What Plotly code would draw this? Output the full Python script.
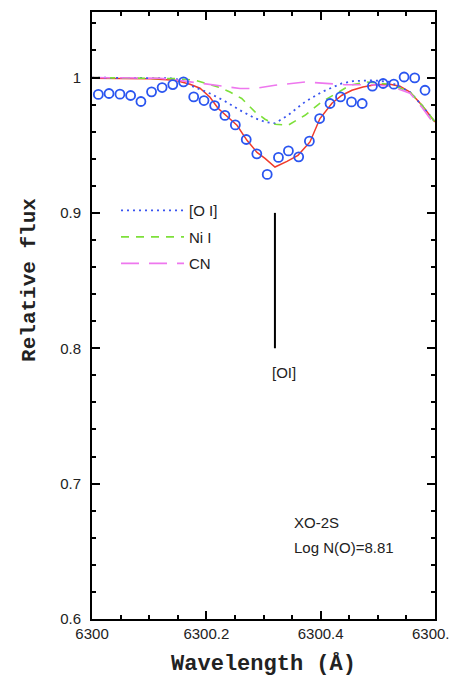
import plotly.graph_objects as go

# Observed spectrum (open circles)
obs_wave = [6300.011, 6300.0297, 6300.0488, 6300.0675, 6300.0855, 6300.1041, 6300.1226, 6300.1413,
            6300.1600, 6300.1779, 6300.1959, 6300.2145, 6300.2325, 6300.2507, 6300.2698, 6300.2883,
            6300.3065, 6300.3262, 6300.3436, 6300.3616, 6300.3803, 6300.3982, 6300.4164, 6300.4348,
            6300.4540, 6300.4727, 6300.4906, 6300.5093, 6300.5280, 6300.5460, 6300.5646, 6300.5826]
obs_flux = [0.9875, 0.9882, 0.9877, 0.9867, 0.9823, 0.9894, 0.9926, 0.9948,
            0.9968, 0.9857, 0.9830, 0.9793, 0.9720, 0.9650, 0.9542, 0.9436,
            0.9284, 0.9410, 0.9458, 0.9414, 0.9530, 0.9697, 0.9808, 0.9857,
            0.9820, 0.9808, 0.9936, 0.9956, 0.9951, 1.0004, 0.9997, 0.9906]

# Total synthetic spectrum (red)
syn_wave = [6300.0, 6300.1015, 6300.1452, 6300.1714, 6300.1889, 6300.2064, 6300.2204, 6300.2379,
            6300.2536, 6300.2711, 6300.2886, 6300.3026, 6300.3201, 6300.3411, 6300.3603, 6300.3813,
            6300.3988, 6300.4198, 6300.4373, 6300.4548, 6300.4740, 6300.4950, 6300.5213, 6300.5388,
            6300.5563, 6300.5772, 6300.6]
syn_flux = [0.9995, 0.9991, 0.9980, 0.9950, 0.9921, 0.9854, 0.9773, 0.9706,
            0.9647, 0.9536, 0.9447, 0.9403, 0.9339, 0.9381, 0.9425, 0.9524,
            0.9697, 0.9810, 0.9869, 0.9906, 0.9930, 0.9947, 0.9950, 0.9936,
            0.9893, 0.9795, 0.9672]

# [O I] contribution (blue dotted)
oi_wave = [6300.0, 6300.1364, 6300.1592, 6300.1714, 6300.2064, 6300.2326, 6300.2589, 6300.2851,
           6300.3026, 6300.3201, 6300.3428, 6300.3726, 6300.4018, 6300.4368, 6300.4565, 6300.4915,
           6300.5213, 6300.5563, 6300.5772, 6300.6]
oi_flux = [0.9999, 0.9995, 0.9980, 0.9943, 0.9882, 0.9825, 0.9758, 0.9699,
           0.9672, 0.9662, 0.9721, 0.9820, 0.9893, 0.9956, 0.9973, 0.9980,
           0.9967, 0.9893, 0.9795, 0.9672]

# Ni I contribution (green dashed)
ni_wave = [6300.0, 6300.154, 6300.1802, 6300.2204, 6300.2414, 6300.2619, 6300.2851, 6300.3026,
           6300.3201, 6300.3428, 6300.3726, 6300.4018, 6300.4368, 6300.4513, 6300.4805, 6300.5213,
           6300.5563, 6300.5772, 6300.6]
ni_flux = [1.0, 0.9991, 0.9980, 0.9930, 0.9893, 0.9845, 0.9746, 0.9692,
           0.9655, 0.9647, 0.9721, 0.9820, 0.9906, 0.9943, 0.9967, 0.9950,
           0.9893, 0.9795, 0.9672]

# CN contribution (magenta long dashed)
cn_wave = [6300.0, 6300.119, 6300.1592, 6300.2064, 6300.2589, 6300.2851, 6300.3201, 6300.3726,
           6300.4193, 6300.4425, 6300.4863, 6300.5213, 6300.5563, 6300.5772, 6300.6]
cn_flux = [1.0, 0.9995, 0.9975, 0.9947, 0.9919, 0.9919, 0.9943, 0.9967,
           0.9956, 0.9947, 0.9947, 0.9936, 0.9884, 0.9780, 0.9647]

# [OI] line marker
oi_line_wave = [6300.32, 6300.32]
oi_line_flux = [0.8, 0.9]

x_ticks = [6300, 6300.2, 6300.4, 6300.6]
x_tick_text = ["6300", "6300.2", "6300.4", "6300.6"]
y_ticks = [0.6, 0.7, 0.8, 0.9, 1.0]
y_tick_text = ["0.6", "0.7", "0.8", "0.9", "1"]

SANS = "Liberation Sans, Arial, sans-serif"
MONO = "Liberation Mono, Courier New, monospace"

fig = go.Figure()
fig.add_trace(go.Scatter(x=syn_wave, y=syn_flux, mode="lines",
                         line=dict(color="#f03a2a", width=1.5), showlegend=False))
fig.add_trace(go.Scatter(x=oi_wave, y=oi_flux, mode="lines", name="[O I]",
                         line=dict(color="#3a55f0", width=1.8, dash="2px,4px"), legendgroup="a"))
fig.add_trace(go.Scatter(x=ni_wave, y=ni_flux, mode="lines", name="Ni I",
                         line=dict(color="#7de03a", width=1.6, dash="8px,7px"), legendgroup="b"))
fig.add_trace(go.Scatter(x=cn_wave, y=cn_flux, mode="lines", name="CN",
                         line=dict(color="#ee77ee", width=1.6, dash="18px,10px"), legendgroup="c"))
fig.add_trace(go.Scatter(x=obs_wave, y=obs_flux, mode="markers", showlegend=False,
                         marker=dict(symbol="circle-open", size=9, color="#2a55f0",
                                     line=dict(width=1.8, color="#2a55f0"))))
fig.add_trace(go.Scatter(x=oi_line_wave, y=oi_line_flux, mode="lines", showlegend=False,
                         line=dict(color="black", width=2)))

fig.add_annotation(x=6300.335, y=0.782, text="[OI]", showarrow=False,
                   font=dict(family=SANS, size=15, color="#222"))
fig.add_annotation(x=6300.349, y=0.6713, text="XO-2S", showarrow=False, xanchor="left",
                   font=dict(family=SANS, size=15, color="#222"))
fig.add_annotation(x=6300.349, y=0.6528, text="Log N(O)=8.81", showarrow=False, xanchor="left",
                   font=dict(family=SANS, size=15, color="#222"))
# y-axis title (sits above the axis centre in the original)
fig.add_annotation(xref="paper", yref="paper", x=-0.181, y=0.5585, text="<b>Relative flux</b>",
                   textangle=-90, showarrow=False, xanchor="center", yanchor="middle",
                   font=dict(family=MONO, size=21, color="#222"))

axis_common = dict(showline=True, linecolor="black", linewidth=2, mirror="allticks",
                   ticks="inside", tickwidth=2, ticklen=8, tickcolor="black",
                   showgrid=False, zeroline=False, ticklabeloverflow="allow",
                   automargin=False,
                   tickfont=dict(family=SANS, size=15, color="#222"))

fig.update_xaxes(range=[6299.9999, 6300.6001], tickvals=x_ticks, ticktext=x_tick_text,
                 minor=dict(dtick=0.05, ticks="inside", ticklen=4, tickwidth=2, tickcolor="black"),
                 title=dict(text="<b>Wavelength (Å)</b>", font=dict(family=MONO, size=22, color="#222"),
                            standoff=14),
                 **axis_common)
fig.update_yaxes(range=[0.6, 1.0484], tickvals=y_ticks, ticktext=y_tick_text,
                 minor=dict(dtick=0.02, ticks="inside", ticklen=4, tickwidth=2, tickcolor="black"),
                 ticklabelstandoff=6,
                 **axis_common)

fig.update_layout(
    width=449, height=675,
    margin=dict(l=84, r=22, t=4, b=64),
    plot_bgcolor="white", paper_bgcolor="white",
    legend=dict(x=0.07, y=0.7, xanchor="left", yanchor="top", bgcolor="rgba(0,0,0,0)",
                font=dict(family=SANS, size=15, color="#222"), tracegroupgap=4,
                itemwidth=63),
)

fig.write_html("out.html")
